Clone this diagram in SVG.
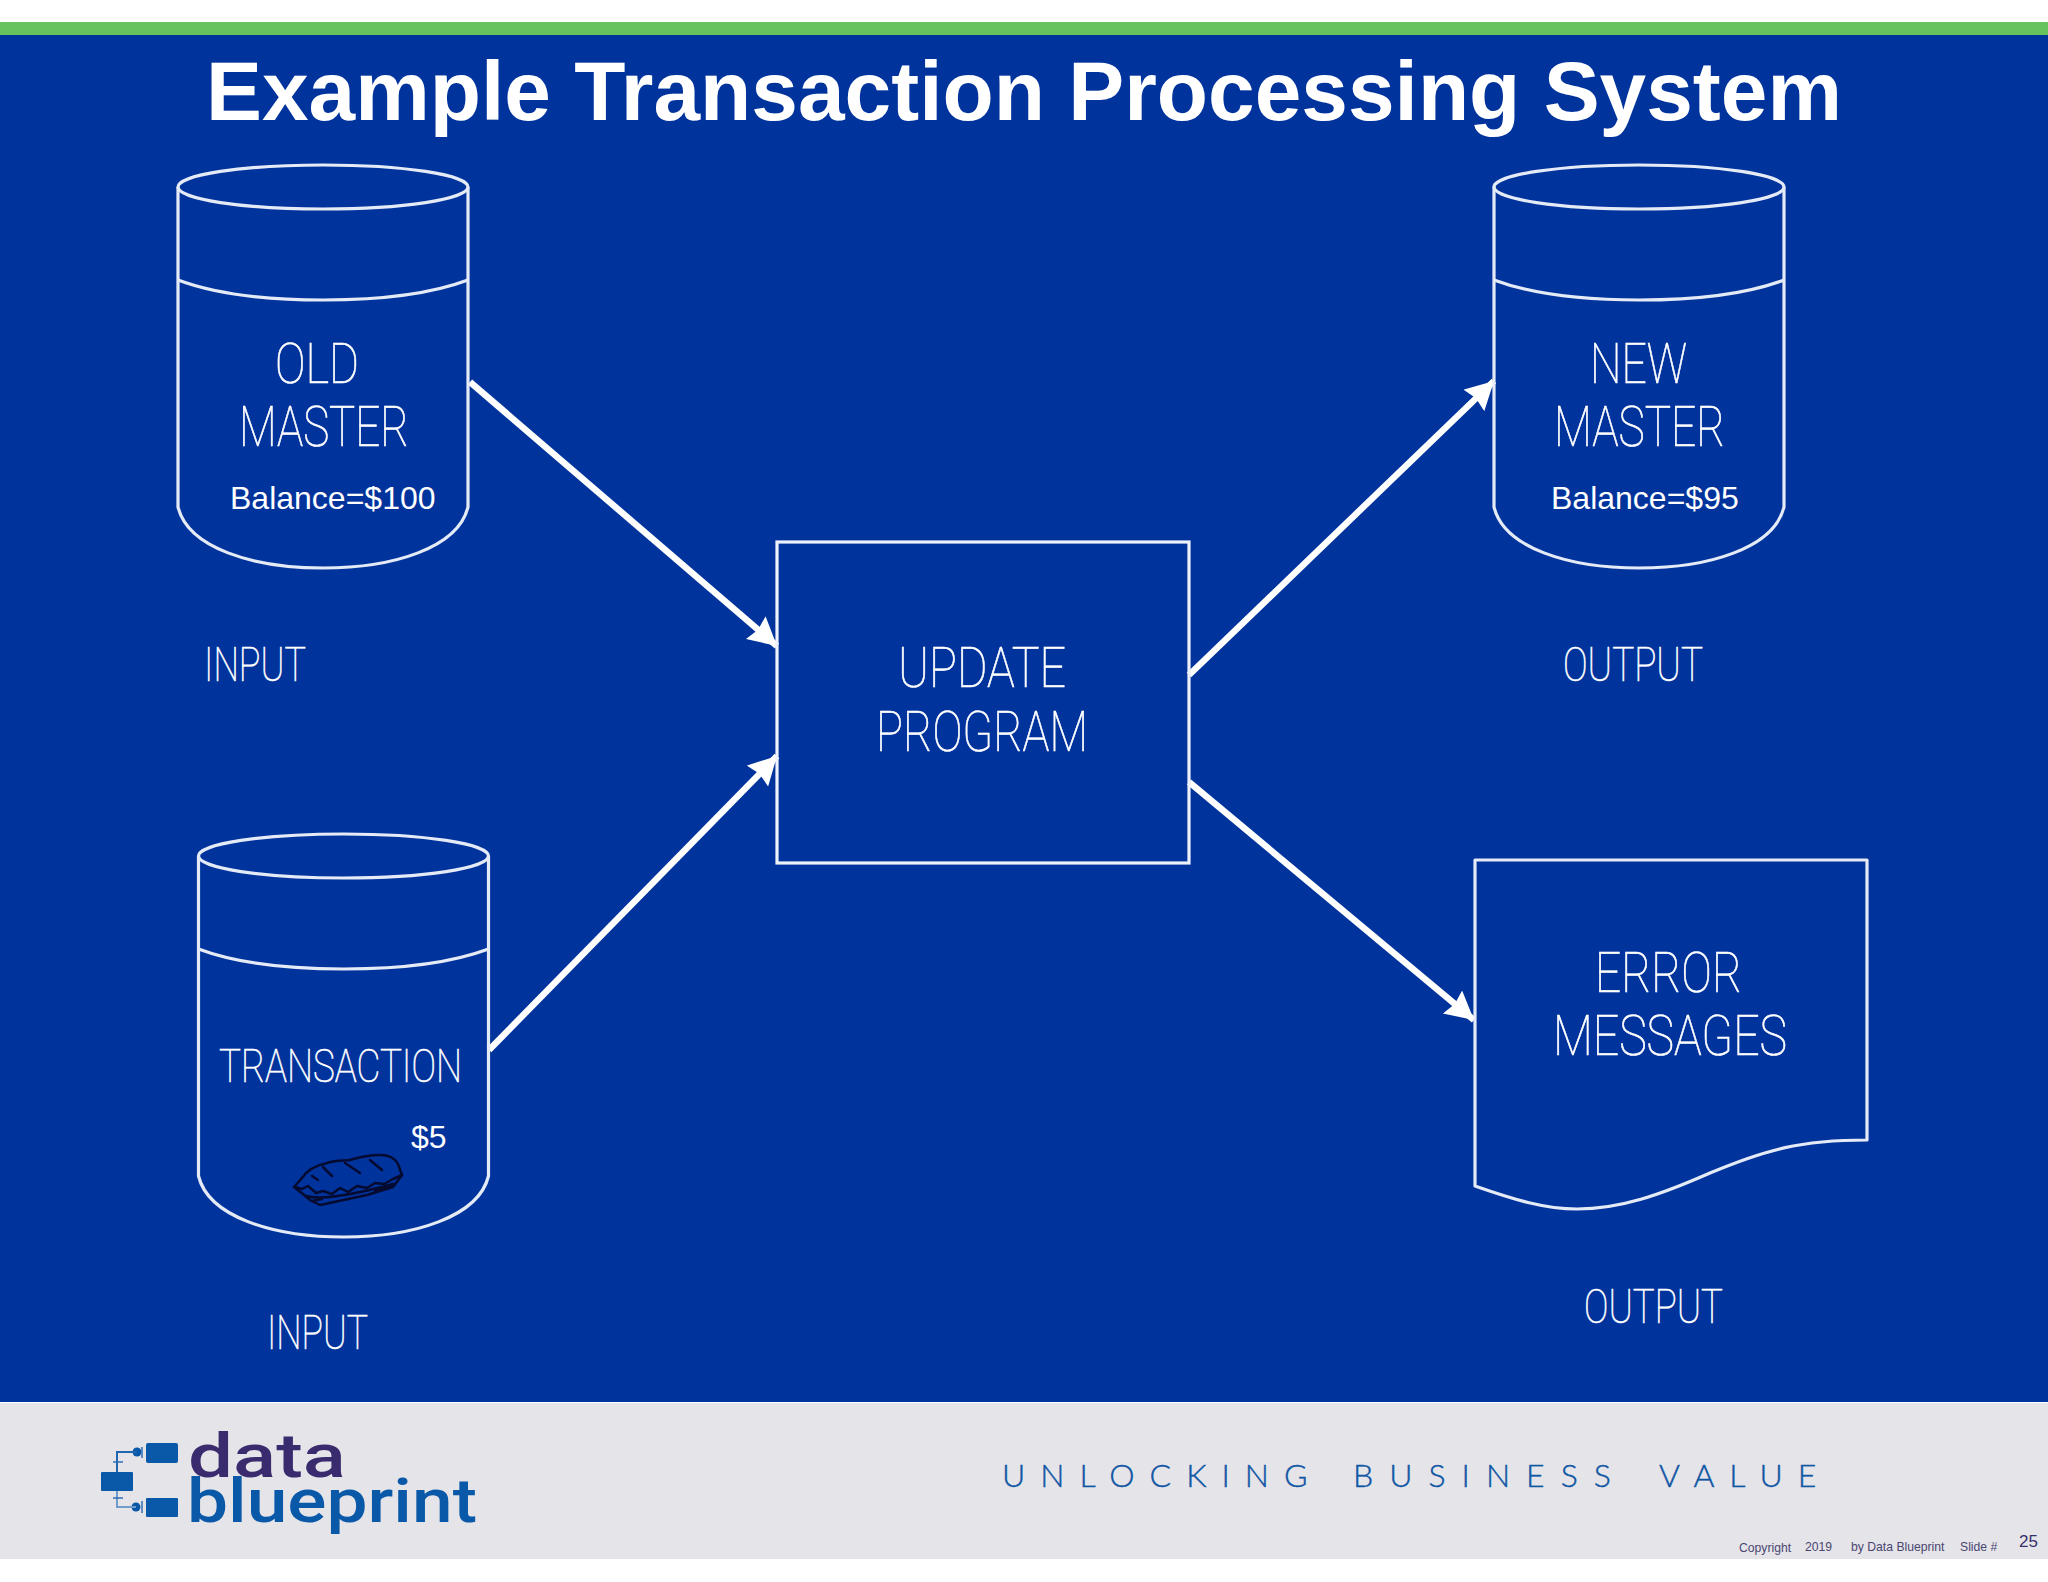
<svg xmlns="http://www.w3.org/2000/svg" width="2048" height="1582" viewBox="0 0 2048 1582">
<style>
.l{fill:none;stroke:#e4ebf7;stroke-width:3.2;stroke-linejoin:round}
.c{stroke:#fff;stroke-width:6.5;fill:none;marker-end:url(#ah)}
.t{font-family:Roboto,"Liberation Sans",sans-serif;font-weight:100;fill:#fff;stroke:#fff;stroke-width:.7}
.b{font-family:"Liberation Sans",Arial,sans-serif;fill:#fff;font-size:32px}
.f{font-family:"Liberation Sans",Arial,sans-serif;fill:#4a4672;font-size:12.2px}
.s{fill:none;stroke:#050a30;stroke-width:2.5;stroke-linejoin:round;stroke-linecap:round}
.lg{fill:#0a58a8}
</style>
<defs>
<marker id="ah" markerUnits="userSpaceOnUse" markerWidth="32" markerHeight="32" refX="28" refY="15" orient="auto">
<path d="M0 0L28 15L0 30L3 15Z" fill="#fff"/>
</marker>
<g id="cyl">
<ellipse cx="145" cy="24" rx="145" ry="22" class="l"/>
<path d="M0 24V344C10 385 75 405 145 405S280 385 290 344V24" class="l"/>
<path d="M0 117C40 132 90 137 145 137S250 132 290 117" class="l"/>
</g>
</defs>
<rect width="2048" height="1582" fill="#fff"/>
<rect y="22" width="2048" height="13" fill="#66c35d"/>
<rect y="35" width="2048" height="1367" fill="#00339c"/>
<rect y="1403" width="2048" height="156" fill="#e5e4e8"/>
<text id="title" x="206" y="120" font-family="'Liberation Sans',Arial,sans-serif" font-weight="700" font-size="84" fill="#fff" textLength="1636" lengthAdjust="spacingAndGlyphs">Example Transaction Processing System</text>

<g id="connectors">
<line x1="470" y1="382" x2="777" y2="646" class="c"/>
<line x1="489" y1="1050" x2="777" y2="756" class="c"/>
<line x1="1189" y1="675" x2="1494" y2="381" class="c"/>
<line x1="1189" y1="782" x2="1474" y2="1020" class="c"/>
</g>

<g id="old-master">
<use href="#cyl" x="178" y="163"/>
<text class="t" x="275" y="383" font-size="56" textLength="84" lengthAdjust="spacingAndGlyphs">OLD</text>
<text class="t" x="239" y="446" font-size="56" textLength="170" lengthAdjust="spacingAndGlyphs">MASTER</text>
<text class="b" x="230" y="509">Balance=$100</text>
</g>
<g id="new-master">
<use href="#cyl" x="1494" y="163"/>
<text class="t" x="1590" y="383" font-size="56" textLength="97" lengthAdjust="spacingAndGlyphs">NEW</text>
<text class="t" x="1554" y="446" font-size="56" textLength="171" lengthAdjust="spacingAndGlyphs">MASTER</text>
<text class="b" x="1551" y="509">Balance=$95</text>
</g>
<g id="transaction">
<use href="#cyl" x="198.5" y="832"/>
<text class="t" x="219" y="1082" font-size="47" textLength="243" lengthAdjust="spacingAndGlyphs">TRANSACTION</text>
<text class="b" x="411" y="1148">$5</text>
<g id="sandwich">
<path d="M302 1178C307 1170 318 1165 327 1163C337 1160 345 1161 350 1160C360 1157 370 1155 380 1155C388 1155 395 1158 398 1164L402 1175L393 1187L367 1195L320 1205L310 1200L303 1194L294 1187Z" class="s"/>
<path d="M295 1187L302 1189L308 1186L316 1193L323 1191L332 1194L340 1188L348 1192L357 1186L367 1188L375 1183L384 1184L393 1179L402 1175" class="s"/>
<path d="M306 1196C320 1200 345 1197 393 1184M312 1201L322 1199M375 1191L390 1187" class="s"/>
<path d="M323 1167L332 1176M345 1163L360 1173M370 1160L382 1170M312 1176L318 1180" class="s"/>
</g>
</g>
<g id="update-program">
<rect x="777" y="542" width="412" height="321" fill="none" stroke="#edf1fa" stroke-width="3.2"/>
<text class="t" x="898" y="687" font-size="56" textLength="168" lengthAdjust="spacingAndGlyphs">UPDATE</text>
<text class="t" x="876" y="751" font-size="56" textLength="212" lengthAdjust="spacingAndGlyphs">PROGRAM</text>
</g>
<g id="error-messages">
<path d="M1475 860H1867V1140C1800 1140 1765 1150 1710 1173C1660 1195 1620 1209 1577 1209C1545 1209 1515 1200 1475 1186Z" class="l"/>
<text class="t" x="1595" y="992" font-size="56" textLength="147" lengthAdjust="spacingAndGlyphs">ERROR</text>
<text class="t" x="1553" y="1055" font-size="56" textLength="234" lengthAdjust="spacingAndGlyphs">MESSAGES</text>
</g>
<text class="t" x="204" y="681" font-size="49" textLength="102" lengthAdjust="spacingAndGlyphs">INPUT</text>
<text class="t" x="1563" y="681" font-size="49" textLength="140" lengthAdjust="spacingAndGlyphs">OUTPUT</text>
<text class="t" x="267" y="1349" font-size="49" textLength="101" lengthAdjust="spacingAndGlyphs">INPUT</text>
<text class="t" x="1584" y="1323" font-size="49" textLength="139" lengthAdjust="spacingAndGlyphs">OUTPUT</text>

<g id="logo">
<rect class="lg" x="146" y="1443" width="32" height="20" rx="2"/>
<rect class="lg" x="101" y="1472" width="32" height="19" rx="1"/>
<rect class="lg" x="146" y="1498" width="32" height="19" rx="1"/>
<circle class="lg" cx="137" cy="1452" r="4.5"/>
<circle class="lg" cx="136" cy="1507" r="4.5"/>
<path d="M117 1472V1452H137" fill="none" stroke="#1f66b0" stroke-width="2"/>
<path d="M117 1491V1507H136" fill="none" stroke="#6f9ccb" stroke-width="2"/>
<path d="M113 1462H123M113 1498H123M142 1447V1458M142 1501V1513" fill="none" stroke="#2f6fb5" stroke-width="1.5"/>
<text x="188" y="1477" font-family="Roboto,'Liberation Sans',sans-serif" font-weight="500" font-size="62" fill="#3a2b6f" textLength="158" lengthAdjust="spacingAndGlyphs">data</text>
<text x="187" y="1522" font-family="Roboto,'Liberation Sans',sans-serif" font-weight="500" font-size="62" fill="#0a58a8" textLength="290" lengthAdjust="spacingAndGlyphs">blueprint</text>
</g>
<text x="1002" y="1487" font-family="Lato,'Liberation Sans',sans-serif" font-weight="300" font-size="32" fill="#0f56a5" stroke="#0f56a5" stroke-width=".4" letter-spacing="15"><tspan x="1002">UNLOCKING</tspan> <tspan x="1353" letter-spacing="16">BUSINESS</tspan> <tspan x="1659">VALUE</tspan></text>
<text class="f" x="1739" y="1552">Copyright</text>
<text class="f" x="1805" y="1551">2019</text>
<text class="f" x="1851" y="1551">by Data Blueprint</text>
<text class="f" x="1960" y="1551">Slide #</text>
<text x="2019" y="1547" font-family="'Liberation Sans',Arial,sans-serif" font-size="17" fill="#37306b">25</text>
</svg>
